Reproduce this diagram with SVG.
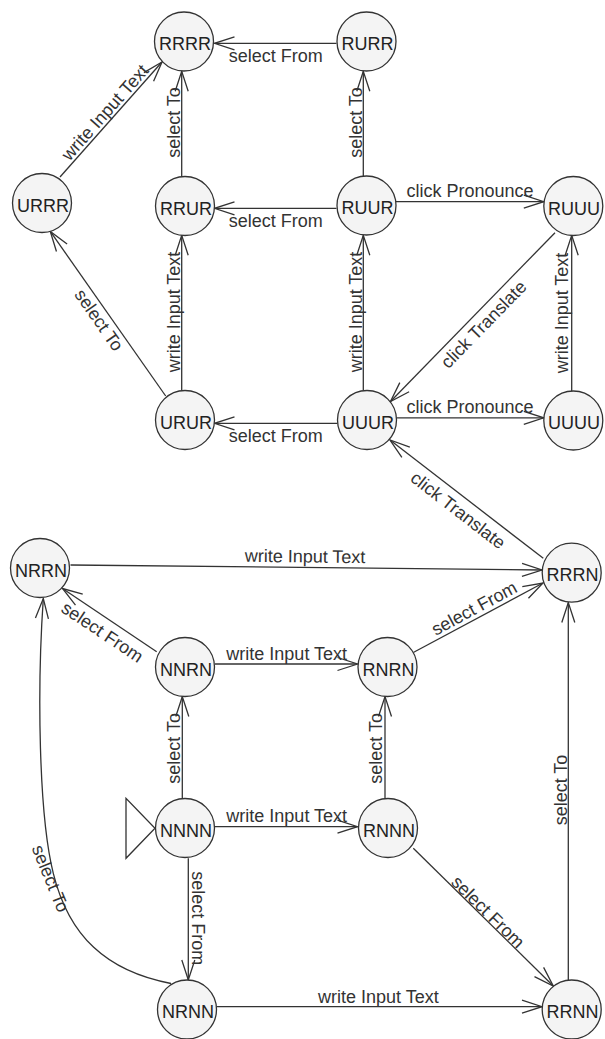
<svg xmlns="http://www.w3.org/2000/svg" width="605" height="1039" viewBox="0 0 605 1039">
<style>
.node circle{fill:#f4f4f4;stroke:#333;stroke-width:1.3}
.node text{font-family:"Liberation Sans",Arial,sans-serif;font-size:18px;fill:#222;text-anchor:middle}
.edge path{fill:none;stroke:#333;stroke-width:1.3;marker-end:url(#arr)}
.edge text{font-family:"Liberation Sans",Arial,sans-serif;font-size:18px;fill:#333;text-anchor:middle}
</style>
<defs>
<marker id="arr" markerUnits="userSpaceOnUse" orient="auto" markerWidth="24" markerHeight="16" viewBox="0 0 24 16" refX="22" refY="8" overflow="visible">
<path d="M2,1.5 L22,8 L2,14.5" fill="none" stroke="#333" stroke-width="1.3"/>
</marker>
</defs>
<rect width="605" height="1039" fill="#fff"/>
<g id="connectors">
<g class="edge" id="e-RURR-RRRR"><path d="M336.5,43.3 L214.5,43.3"/><text transform="translate(275.7,62)">select From</text></g>
<g class="edge" id="e-RUUR-RURR"><path d="M363.3,176.5 L363.3,71.3"/><text transform="translate(361.7,122.5) rotate(-90)">select To</text></g>
<g class="edge" id="e-RRUR-RRRR"><path d="M181.7,177 L181.7,71.3"/><text transform="translate(179.8,122.5) rotate(-90)">select To</text></g>
<g class="edge" id="e-URRR-RRRR"><path d="M60,177 L162,62"/><text transform="translate(109.5,116.5) rotate(-48.4)">write Input Text</text></g>
<g class="edge" id="e-RUUR-RRUR"><path d="M336.5,208.3 L214.5,208.3"/><text transform="translate(275.7,227)">select From</text></g>
<g class="edge" id="e-RUUR-RUUU"><path d="M396,201.7 L543.8,201.7"/><text transform="translate(470,197)">click Pronounce</text></g>
<g class="edge" id="e-URUR-RRUR"><path d="M181.7,390.5 L181.7,235.3"/><text transform="translate(179.8,312) rotate(-90)">write Input Text</text></g>
<g class="edge" id="e-URUR-URRR"><path d="M165.7,396 L50.3,231.4"/><text transform="translate(94,323.5) rotate(55)">select To</text></g>
<g class="edge" id="e-UUUR-RUUR"><path d="M363.3,390.5 L363.3,235.3"/><text transform="translate(361.7,312) rotate(-90)">write Input Text</text></g>
<g class="edge" id="e-RUUU-UUUR"><path d="M555,232.7 L390.5,401.5"/><text transform="translate(488,328.7) rotate(-45.7)">click Translate</text></g>
<g class="edge" id="e-UUUU-RUUU"><path d="M571.7,391.5 L571.7,235.3"/><text transform="translate(568,313) rotate(-90)">write Input Text</text></g>
<g class="edge" id="e-UUUR-URUR"><path d="M337.5,423.3 L214.5,423.3"/><text transform="translate(275.8,442)">select From</text></g>
<g class="edge" id="e-UUUR-UUUU"><path d="M396.5,417.8 L543.8,417.8"/><text transform="translate(470,413)">click Pronounce</text></g>
<g class="edge" id="e-RRRN-UUUR"><path d="M543.3,558.3 L390,440"/><text transform="translate(454.3,515.1) rotate(37.7)">click Translate</text></g>
<g class="edge" id="e-NRRN-RRRN"><path d="M70.5,565 L542,570"/><text transform="translate(305,562.5) rotate(0.6)">write Input Text</text></g>
<g class="edge" id="e-NNRN-NRRN"><path d="M156.7,651.7 L62.5,588.5"/><text transform="translate(98.9,637.1) rotate(33.9)">select From</text></g>
<g class="edge" id="e-NNRN-RNRN"><path d="M215,664 L357.5,664"/><text transform="translate(286.7,660)">write Input Text</text></g>
<g class="edge" id="e-RNRN-RRRN"><path d="M413.3,652.5 L543,583"/><text transform="translate(477.1,613.7) rotate(-28.2)">select From</text></g>
<g class="edge" id="e-NNNN-NNRN"><path d="M182.3,798.3 L182.3,696.5"/><text transform="translate(179.5,748.3) rotate(-90)">select To</text></g>
<g class="edge" id="e-RNNN-RNRN"><path d="M385,798.3 L385,696.5"/><text transform="translate(381.7,748.3) rotate(-90)">select To</text></g>
<g class="edge" id="e-NNNN-RNNN"><path d="M215,826.7 L357.5,826.7"/><text transform="translate(286.7,821.5)">write Input Text</text></g>
<g class="edge" id="e-NNNN-NRNN"><path d="M188.3,858.3 L188.3,980"/><text transform="translate(191.7,918.3) rotate(90)">select From</text></g>
<g class="edge" id="e-NRNN-NRRN"><path d="M171,983.5 C106.3,971.3 68.8,936 53.3,873.3 C38.7,815.1 37,690 43.3,598.5"/><text transform="translate(44.8,880.8) rotate(67.7)">select To</text></g>
<g class="edge" id="e-RNNN-RRNN"><path d="M413.3,848.3 L553.3,986"/><text transform="translate(483.7,916.3) rotate(44.5)">select From</text></g>
<g class="edge" id="e-RRNN-RRRN"><path d="M568.3,980 L568.3,602.5"/><text transform="translate(566.7,790) rotate(-90)">select To</text></g>
<g class="edge" id="e-NRNN-RRNN"><path d="M216.5,1006.7 L542,1006.7"/><text transform="translate(378.3,1003)">write Input Text</text></g>
</g>
<g id="start"><polygon points="126,798.3 126,858.3 155,828.3" fill="#fff" stroke="#333" stroke-width="1.3"/></g>
<g id="nodes">
<g class="node" id="RRRR"><circle cx="184" cy="41.5" r="29.5"/><text x="185" y="50">RRRR</text></g>
<g class="node" id="RURR"><circle cx="366.5" cy="41.5" r="29.5"/><text x="367.5" y="50">RURR</text></g>
<g class="node" id="URRR"><circle cx="42" cy="203" r="29.5"/><text x="43" y="211.5">URRR</text></g>
<g class="node" id="RRUR"><circle cx="185" cy="206" r="29.5"/><text x="186" y="214.5">RRUR</text></g>
<g class="node" id="RUUR"><circle cx="366.5" cy="205.5" r="29.5"/><text x="367.5" y="214">RUUR</text></g>
<g class="node" id="RUUU"><circle cx="573.3" cy="206" r="29.5"/><text x="574" y="214.5">RUUU</text></g>
<g class="node" id="URUR"><circle cx="185" cy="420" r="29.5"/><text x="186" y="428.5">URUR</text></g>
<g class="node" id="UUUR"><circle cx="367" cy="420" r="29.5"/><text x="368" y="428.5">UUUR</text></g>
<g class="node" id="UUUU"><circle cx="573.3" cy="420.5" r="29.5"/><text x="574" y="429">UUUU</text></g>
<g class="node" id="NRRN"><circle cx="40" cy="568" r="29.5"/><text x="41" y="576.5">NRRN</text></g>
<g class="node" id="RRRN"><circle cx="571.7" cy="572.7" r="29.5"/><text x="572.5" y="581.2">RRRN</text></g>
<g class="node" id="NNRN"><circle cx="185" cy="667" r="29.5"/><text x="186" y="675.5">NNRN</text></g>
<g class="node" id="RNRN"><circle cx="387.5" cy="667" r="29.5"/><text x="388.5" y="675.5">RNRN</text></g>
<g class="node" id="NNNN"><circle cx="185" cy="828" r="29.5"/><text x="186" y="836.5">NNNN</text></g>
<g class="node" id="RNNN"><circle cx="388" cy="828" r="29.5"/><text x="389" y="836.5">RNNN</text></g>
<g class="node" id="NRNN"><circle cx="187" cy="1009.5" r="29.5"/><text x="188" y="1018">NRNN</text></g>
<g class="node" id="RRNN"><circle cx="571.7" cy="1009.5" r="29.5"/><text x="572.5" y="1018">RRNN</text></g>
</g>
</svg>
